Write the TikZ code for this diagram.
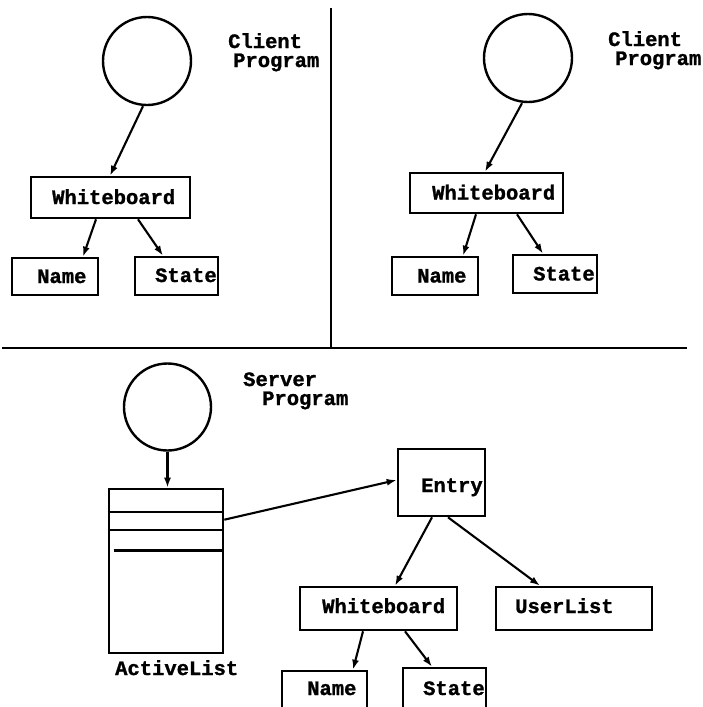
\documentclass[tikz,border=0pt]{standalone}
\usepackage{fontspec}
\newfontfamily\codefont{Liberation Mono}[BoldFeatures={FakeBold=1.2}]
\usetikzlibrary{arrows.meta,calc}
\tikzset{
  box/.style={draw, rectangle, line width=2.6pt, inner sep=0pt},
  circ/.style={draw, circle, line width=2.4pt, inner sep=0pt},
  txt/.style={font=\codefont\bfseries\fontsize{20.5}{22}\selectfont, inner sep=0pt, anchor=base west},
  arr/.style={line width=2.1pt, -{Latex[length=10pt,width=7pt]}},
  divider/.style={line width=2.8pt}
}
\begin{document}
\begin{tikzpicture}[x=1pt,y=-1pt]
\useasboundingbox (0,0) rectangle (702,707);
\clip (0,0) rectangle (702,707);
% dividers
\coordinate (vtop) at (331,8);
\coordinate (vbot) at (331,348);
\coordinate (hl) at (2,348);
\coordinate (hr) at (687,348);
\draw[divider] (vtop) -- (vbot);
\draw[divider] (hl) -- (hr);

% ---------- top-left client ----------
\node[circ, minimum size=88pt] (c1) at (147,61) {};
\node[box, minimum width=159pt, minimum height=41pt] (wb1) at (110.5,197.5) {};
\node[box, minimum width=86pt, minimum height=37pt] (nm1) at (55,276.5) {};
\node[box, minimum width=83pt, minimum height=38pt] (st1) at (176.5,276) {};
\node[txt] (wb1t) at (52,204) {Whiteboard};
\node[txt] (nm1t) at (37,283) {Name};
\node[txt] (st1t) at (155,282) {State};
\node[txt] (cl1a) at (228,48) {Client};
\node[txt] (cl1b) at (233,67) {Program};
\draw[arr] ([xshift=-4pt]c1.south) -- ([xshift=-0.5pt]wb1.north);
\draw[arr] ([xshift=-14.5pt]wb1.south) -- ([xshift=28pt]nm1.north);
\draw[arr] ([xshift=27.5pt]wb1.south) -- ([xshift=-13.5pt]st1.north);

% ---------- top-right client ----------
\node[circ, minimum size=88pt] (c2) at (528,58) {};
\node[box, minimum width=153pt, minimum height=40pt] (wb2) at (486.5,193) {};
\node[box, minimum width=86pt, minimum height=38pt] (nm2) at (435,276) {};
\node[box, minimum width=84pt, minimum height=38pt] (st2) at (555,274) {};
\node[txt] (wb2t) at (432,199.5) {Whiteboard};
\node[txt] (nm2t) at (417,282.5) {Name};
\node[txt] (st2t) at (533,280.5) {State};
\node[txt] (cl2a) at (608,46) {Client};
\node[txt] (cl2b) at (615,65) {Program};
\draw[arr] ([xshift=-6pt]c2.south) -- ([xshift=-1.5pt]wb2.north);
\draw[arr] ([xshift=-10.5pt]wb2.south) -- ([xshift=28pt]nm2.north);
\draw[arr] ([xshift=30.5pt]wb2.south) -- ([xshift=-12pt]st2.north);

% ---------- server ----------
\node[circ, minimum size=87pt] (c3) at (167.5,407) {};
\node[txt] (sv1) at (243,386) {Server};
\node[txt] (sv2) at (262,405) {Program};
\node[box, minimum width=114pt, minimum height=164pt] (al) at (166,571) {};
\draw[line width=2.3pt] ($(al.north west)+(0,24)$) -- ($(al.north east)+(0,24)$);
\draw[line width=2.3pt] ($(al.north west)+(0,42)$) -- ($(al.north east)+(0,42)$);
\draw[line width=2.7pt] ($(al.north west)+(6,63)$) -- ($(al.north east)+(0,63)$);
\node[txt] (alt) at (115,675) {ActiveList};
\draw[arr] (c3.south) -- (c3.south |- al.north);

\node[box, minimum width=87pt, minimum height=67pt] (en) at (441.5,482.5) {};
\node[txt] (ent) at (421,492) {Entry};
\draw[arr] ($(al.north east)+(0,32)$) -- ($(en.west)+(0,-2.5)$);

\node[box, minimum width=157pt, minimum height=43pt] (wb3) at (378.5,608.5) {};
\node[box, minimum width=156pt, minimum height=43pt] (ul) at (574,608.5) {};
\node[txt] (wb3t) at (322,613) {Whiteboard};
\node[txt] (ult) at (515,613) {UserList};
\draw[arr] ([xshift=-9.5pt]en.south) -- ([xshift=16.5pt]wb3.north);
\draw[arr] ([xshift=6.5pt]en.south) -- ([xshift=-34pt]ul.north);

\node[box, minimum width=85pt, minimum height=41pt] (nm3) at (324.5,691.5) {};
\node[box, minimum width=83pt, minimum height=44pt] (st3) at (444.5,690) {};
\node[txt] (nm3t) at (307,695) {Name};
\node[txt] (st3t) at (423,695) {State};
\draw[arr] ([xshift=-15.5pt]wb3.south) -- ([xshift=28.5pt]nm3.north);
\draw[arr] ([xshift=26.5pt]wb3.south) -- ([xshift=-12.5pt]st3.north);
\end{tikzpicture}
\end{document}
